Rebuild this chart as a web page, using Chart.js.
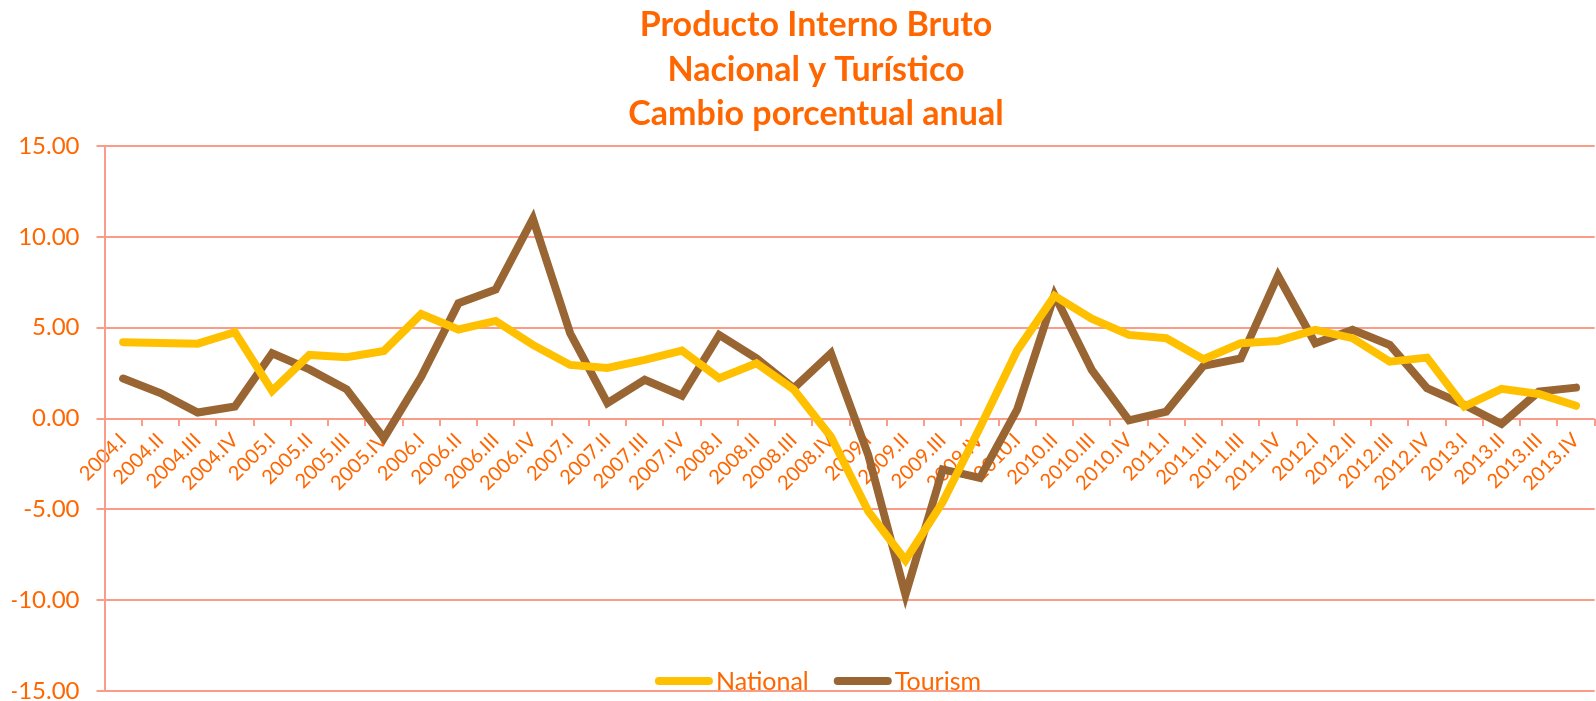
<!DOCTYPE html>
<html>
<head>
<meta charset="utf-8">
<script src="https://cdn.jsdelivr.net/npm/chart.js@4/dist/chart.umd.min.js"></script>
<style>
  html, body { margin: 0; padding: 0; background: #fff; }
  #wrap { width: 1596px; height: 701px; }
</style>
</head>
<body>
<div id="wrap"><canvas id="pibChart"></canvas></div>
<script>
// quarters shown on the x axis
const categories = [
    "2004.I", "2004.II", "2004.III", "2004.IV",
    "2005.I", "2005.II", "2005.III", "2005.IV",
    "2006.I", "2006.II", "2006.III", "2006.IV",
    "2007.I", "2007.II", "2007.III", "2007.IV",
    "2008.I", "2008.II", "2008.III", "2008.IV",
    "2009.I", "2009.II", "2009.III", "2009.IV",
    "2010.I", "2010.II", "2010.III", "2010.IV",
    "2011.I", "2011.II", "2011.III", "2011.IV",
    "2012.I", "2012.II", "2012.III", "2012.IV",
    "2013.I", "2013.II", "2013.III", "2013.IV"
];

// annual % change
const national = [
    4.20, 4.15, 4.12, 4.75, 1.52, 3.50, 3.37, 3.72,
    5.75, 4.90, 5.37, 4.05, 2.95, 2.78, 3.23, 3.74,
    2.22, 3.04, 1.60, -1.00, -5.10, -7.80, -4.60, -0.50,
    3.75, 6.75, 5.50, 4.60, 4.42, 3.26, 4.14, 4.27,
    4.88, 4.42, 3.13, 3.35, 0.66, 1.63, 1.35, 0.70
];
const tourism = [
    2.20, 1.40, 0.33, 0.66, 3.59, 2.70, 1.61, -1.08,
    2.30, 6.34, 7.10, 11.00, 4.69, 0.85, 2.13, 1.26,
    4.60, 3.31, 1.67, 3.59, -2.00, -9.70, -2.80, -3.27,
    0.50, 6.80, 2.68, -0.10, 0.38, 2.90, 3.30, 7.86,
    4.14, 4.88, 4.05, 1.67, 0.75, -0.30, 1.48, 1.70
];

const seriesNames = ["National", "Tourism"];
const titleLines = ["Producto Interno Bruto", "Nacional y Turístico", "Cambio porcentual anual"];

// y axis ticks
const yMin = -15;
const yMax = 15;
const yStep = 5;

const ORANGE = "#FF6600";
const GRID = "#FA9C87";
const FONT = "Lato, 'Open Sans', sans-serif";

// title drawn by hand so it can sit over the plot like the original
const titlePlugin = {
    id: "pibTitle",
    afterDraw(chart) {
        const ctx = chart.ctx;
        ctx.save();
        ctx.fillStyle = ORANGE;
        ctx.font = "bold 34px " + FONT;
        ctx.textAlign = "center";
        ctx.textBaseline = "alphabetic";
        const baselines = [36, 81, 125];
        titleLines.forEach((t, i) => ctx.fillText(t, 816, baselines[i]));
        ctx.restore();
    }
};

// legend sits inside the plot, just above the bottom grid line
const legendPlugin = {
    id: "pibLegend",
    afterDraw(chart) {
        const ctx = chart.ctx;
        const sets = chart.data.datasets;
        const lineLen = 58, gap = 3, itemGap = 25;
        ctx.save();
        ctx.font = "25px " + FONT;
        let total = 0;
        sets.forEach((ds, i) => {
            total += lineLen + gap + ctx.measureText(ds.label).width;
            if (i < sets.length - 1) total += itemGap;
        });
        let x = 818 - total / 2;
        const y = 681;
        sets.forEach(ds => {
            ctx.strokeStyle = ds.borderColor;
            ctx.lineWidth = 8;
            ctx.lineCap = "round";
            ctx.beginPath();
            ctx.moveTo(x + 4, y);
            ctx.lineTo(x + lineLen - 4, y);
            ctx.stroke();
            x += lineLen + gap;
            ctx.fillStyle = ORANGE;
            ctx.textAlign = "left";
            ctx.textBaseline = "middle";
            ctx.fillText(ds.label, x, y + 1);
            x += ctx.measureText(ds.label).width + itemGap;
        });
        ctx.restore();
    }
};

const ctx = document.getElementById("pibChart");

new Chart(ctx, {
    type: "line",
    data: {
        labels: categories,
        datasets: [
            {
                label: seriesNames[0],
                data: national,
                borderColor: "#FFC000",
                backgroundColor: "#FFC000",
                borderWidth: 8,
                borderCapStyle: "round",
                pointRadius: 0,
                tension: 0
            },
            {
                label: seriesNames[1],
                data: tourism,
                borderColor: "#996633",
                backgroundColor: "#996633",
                borderWidth: 8,
                borderCapStyle: "round",
                pointRadius: 0,
                tension: 0
            }
        ]
    },
    options: {
        responsive: true,
        maintainAspectRatio: false,
        animation: false,
        layout: { padding: { left: 12, right: 0, top: 146, bottom: 10 } },
        plugins: {
            legend: { display: false },
            title: { display: false },
            tooltip: { enabled: false }
        },
        scales: {
            x: {
                position: { y: 0 },
                offset: true,
                grid: {
                    offset: true,
                    drawOnChartArea: false,
                    drawTicks: true,
                    tickLength: 7,
                    color: GRID,
                    lineWidth: 2
                },
                border: { display: false },
                ticks: {
                    autoSkip: false,
                    maxRotation: 45,
                    minRotation: 45,
                    padding: 3,
                    color: ORANGE,
                    font: { family: FONT, size: 20 }
                }
            },
            y: {
                min: yMin,
                max: yMax,
                afterFit(scale) {
                    scale.width = 92.5;
                    // don't let label padding shrink the plot
                    scale.paddingTop = 0;
                    scale.paddingBottom = 0;
                },
                grid: {
                    color: GRID,
                    lineWidth: 2,
                    drawTicks: true,
                    tickLength: 8
                },
                border: { display: true, color: GRID, width: 2 },
                ticks: {
                    stepSize: yStep,
                    padding: 17,
                    color: ORANGE,
                    font: { family: FONT, size: 24, lineHeight: 1 },
                    callback: v => v.toFixed(2)
                }
            }
        }
    },
    plugins: [titlePlugin, legendPlugin]
});
</script>
</body>
</html>
